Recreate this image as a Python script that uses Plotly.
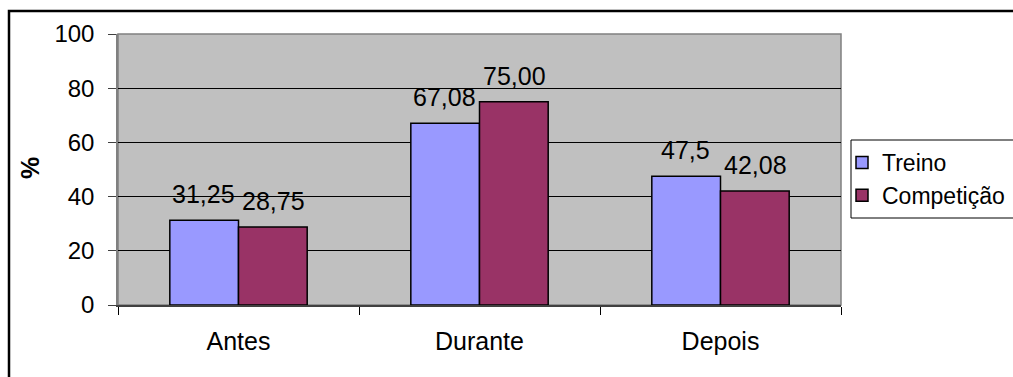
import plotly.graph_objects as go

categories = ["Antes", "Durante", "Depois"]
treino = [31.25, 67.08, 47.5]
competicao = [28.75, 75.00, 42.08]
treino_labels = ["31,25", "67,08", "47,5"]
competicao_labels = ["28,75", "75,00", "42,08"]
y_ticks = [0, 20, 40, 60, 80, 100]

FONT = "Liberation Sans, Arial, sans-serif"

fig = go.Figure()
fig.add_trace(go.Bar(name="Treino", x=categories, y=treino,
                     marker=dict(color="#9999FF", line=dict(color="black", width=1.5))))
fig.add_trace(go.Bar(name="Competição", x=categories, y=competicao,
                     marker=dict(color="#993366", line=dict(color="black", width=1.5))))

W, H = 1013, 377
L, R, T, B = 118, 1013 - 841, 34, 377 - 305
pw, ph = W - L - R, H - T - B

def px(x):
    return (x - L) / pw

def py(y):
    return (H - B - y) / ph

annotations = []
for c, v, t in zip(categories, treino, treino_labels):
    annotations.append(dict(x=c, y=v, text=t, showarrow=False, xanchor="center", yanchor="bottom",
                            xshift=-35, yshift=10, font=dict(family=FONT, size=25, color="black")))
for c, v, t in zip(categories, competicao, competicao_labels):
    annotations.append(dict(x=c, y=v, text=t, showarrow=False, xanchor="center", yanchor="bottom",
                            xshift=35, yshift=10, font=dict(family=FONT, size=25, color="black")))
annotations.append(dict(xref="paper", yref="paper", x=px(30), y=py(168), text="<b>%</b>",
                        textangle=-90, showarrow=False, xanchor="center", yanchor="middle",
                        font=dict(family=FONT, size=25, color="black")))

shapes = [
    dict(type="rect", xref="paper", yref="paper", x0=px(9), x1=px(1040), y0=py(400), y1=py(11),
         line=dict(color="black", width=2.5), fillcolor="rgba(0,0,0,0)", layer="above"),
    dict(type="rect", xref="paper", yref="paper", x0=0, x1=1, y0=0, y1=1,
         line=dict(color="#808080", width=1.5), fillcolor="rgba(0,0,0,0)", layer="below"),
    # legend frame
    dict(type="rect", xref="paper", yref="paper", x0=px(851), x1=px(1030), y0=py(218), y1=py(140),
         line=dict(color="black", width=1), fillcolor="white", layer="above"),
]

fig.update_layout(
    width=W, height=H,
    margin=dict(l=L, r=R, t=T, b=B, autoexpand=False),
    paper_bgcolor="white",
    plot_bgcolor="#C0C0C0",
    barmode="group", bargap=0.43, bargroupgap=0,
    font=dict(family=FONT, size=25, color="black"),
    showlegend=True,
    legend=dict(xref="container", yref="container", x=842 / W, y=1 - 141 / H,
                xanchor="left", yanchor="top",
                bgcolor="rgba(0,0,0,0)", borderwidth=0,
                font=dict(family=FONT, size=23, color="black"),
                itemwidth=30, tracegroupgap=0),
    annotations=annotations,
    shapes=shapes,
    xaxis=dict(type="category", tickson="boundaries", ticks="outside", ticklen=8,
               tickcolor="black", showline=True, linecolor="#404040", linewidth=2,
               showgrid=False, tickfont=dict(size=25), ticklabelstandoff=13, automargin=False),
    yaxis=dict(range=[0, 100], tickvals=y_ticks, ticks="outside", ticklen=8, tickcolor="#404040",
               showline=True, linecolor="#808080", linewidth=1.5,
               showgrid=True, gridcolor="black", gridwidth=1, zeroline=False,
               tickfont=dict(size=24), ticklabelstandoff=9, automargin=False),
)

fig.write_html("out.html")
